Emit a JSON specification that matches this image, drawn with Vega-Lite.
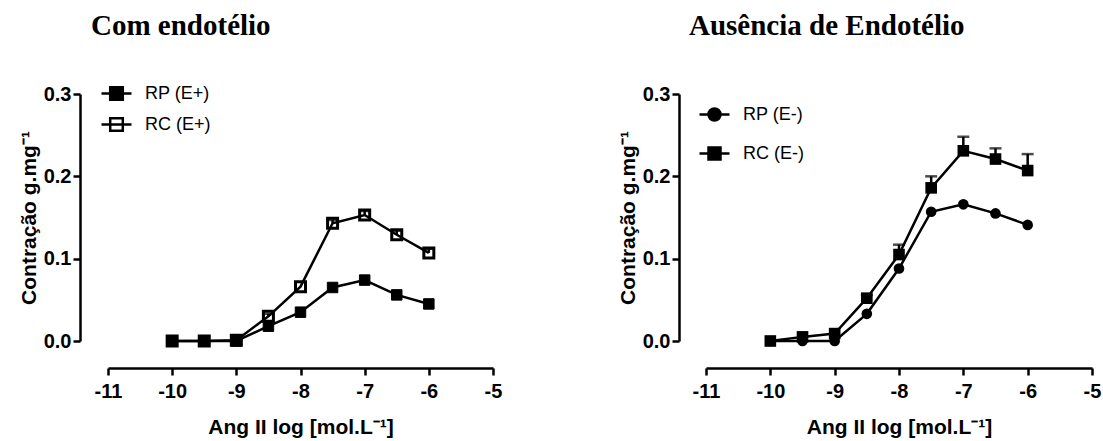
{
  "$schema": "https://vega.github.io/schema/vega-lite/v6.json",
  "autosize": {"type": "pad"},
  "padding": {"left": 18, "top": 12, "right": 5, "bottom": 3},
  "background": "white",
  "spacing": 213,
  "bounds": "flush",
  "resolve": {"scale": {"shape": "independent", "fill": "independent", "stroke": "independent"}, "legend": {"shape": "independent", "fill": "independent", "stroke": "independent"}},
  "config": {
    "font": "Liberation Sans",
    "view": {"stroke": null},
    "axis": {
      "grid": false,
      "domainColor": "black",
      "domainWidth": 2.5,
      "tickColor": "black",
      "tickWidth": 2.5,
      "tickSize": 7,
      "labelFont": "Liberation Sans",
      "labelFontSize": 20,
      "labelFontWeight": "bold",
      "labelColor": "black",
      "labelFlush": false,
      "labelOverlap": false,
      "titleFont": "Liberation Sans",
      "titleFontSize": 21,
      "titleFontWeight": "bold",
      "titleColor": "black"
    },
    "legend": {
      "labelFont": "Liberation Sans",
      "labelFontSize": 18,
      "labelColor": "black",
      "symbolSize": 900,
      "symbolStrokeWidth": 2.5,
      "symbolStrokeColor": "black",
      "symbolOpacity": 1,
      "labelOffset": 12
    },
    "title": {
      "font": "Liberation Serif",
      "fontSize": 29,
      "fontWeight": "bold",
      "color": "black",
      "anchor": "start",
      "frame": "group",
      "dx": -17
    }
  },
  "datasets": {
    "left": [
      {"x": -10, "y": 0.0, "hi": null, "series": "RC (E+)"},
      {"x": -9.5, "y": 0.0, "hi": null, "series": "RC (E+)"},
      {"x": -9, "y": 0.001, "hi": null, "series": "RC (E+)"},
      {"x": -8.5, "y": 0.030, "hi": 0.033, "series": "RC (E+)"},
      {"x": -8, "y": 0.066, "hi": null, "series": "RC (E+)"},
      {"x": -7.5, "y": 0.143, "hi": 0.147, "series": "RC (E+)"},
      {"x": -7, "y": 0.153, "hi": 0.158, "series": "RC (E+)"},
      {"x": -6.5, "y": 0.129, "hi": 0.134, "series": "RC (E+)"},
      {"x": -6, "y": 0.107, "hi": 0.112, "series": "RC (E+)"},
      {"x": -10, "y": 0.0, "hi": null, "series": "RP (E+)"},
      {"x": -9.5, "y": 0.0, "hi": null, "series": "RP (E+)"},
      {"x": -9, "y": 0.0, "hi": null, "series": "RP (E+)"},
      {"x": -8.5, "y": 0.018, "hi": null, "series": "RP (E+)"},
      {"x": -8, "y": 0.035, "hi": null, "series": "RP (E+)"},
      {"x": -7.5, "y": 0.065, "hi": null, "series": "RP (E+)"},
      {"x": -7, "y": 0.074, "hi": null, "series": "RP (E+)"},
      {"x": -6.5, "y": 0.056, "hi": null, "series": "RP (E+)"},
      {"x": -6, "y": 0.045, "hi": null, "series": "RP (E+)"}
    ],
    "right": [
      {"x": -10, "y": 0.0, "hi": null, "series": "RP (E-)"},
      {"x": -9.5, "y": 0.0, "hi": null, "series": "RP (E-)"},
      {"x": -9, "y": 0.0, "hi": null, "series": "RP (E-)"},
      {"x": -8.5, "y": 0.033, "hi": null, "series": "RP (E-)"},
      {"x": -8, "y": 0.088, "hi": null, "series": "RP (E-)"},
      {"x": -7.5, "y": 0.157, "hi": null, "series": "RP (E-)"},
      {"x": -7, "y": 0.166, "hi": null, "series": "RP (E-)"},
      {"x": -6.5, "y": 0.155, "hi": null, "series": "RP (E-)"},
      {"x": -6, "y": 0.141, "hi": null, "series": "RP (E-)"},
      {"x": -10, "y": 0.0, "hi": null, "series": "RC (E-)"},
      {"x": -9.5, "y": 0.005, "hi": null, "series": "RC (E-)"},
      {"x": -9, "y": 0.009, "hi": null, "series": "RC (E-)"},
      {"x": -8.5, "y": 0.052, "hi": 0.056, "series": "RC (E-)"},
      {"x": -8, "y": 0.105, "hi": 0.117, "series": "RC (E-)"},
      {"x": -7.5, "y": 0.186, "hi": 0.200, "series": "RC (E-)"},
      {"x": -7, "y": 0.231, "hi": 0.248, "series": "RC (E-)"},
      {"x": -6.5, "y": 0.221, "hi": 0.234, "series": "RC (E-)"},
      {"x": -6, "y": 0.207, "hi": 0.227, "series": "RC (E-)"}
    ]
  },
  "hconcat": [
    {
      "width": 385,
      "height": 247,
      "title": {"text": "Com endotélio", "baseline": "alphabetic", "offset": 13},
      "data": {"name": "left"},
      "encoding": {
        "x": {
          "field": "x", "type": "quantitative",
          "scale": {"domain": [-11, -5], "nice": false, "zero": false},
          "axis": {"values": [-11, -10, -9, -8, -7, -6, -5], "labelExpr": "'' + datum.value", "offset": 27, "title": "Ang II log [mol.L⁻¹]", "titlePadding": 15, "labelPadding": 6}
        },
        "y": {
          "field": "y", "type": "quantitative",
          "scale": {"domain": [0, 0.3], "nice": false, "zero": false},
          "axis": {"values": [0, 0.1, 0.2, 0.3], "format": ".1f", "offset": 28, "title": "Contração g.mg⁻¹", "titlePadding": 4, "labelPadding": 2}
        }
      },
      "layer": [
        {
          "mark": {"type": "line", "color": "black", "strokeWidth": 2.5},
          "encoding": {"detail": {"field": "series"}}
        },
        {
          "transform": [{"filter": "isValid(datum.hi)"}],
          "mark": {"type": "rule", "color": "black", "strokeWidth": 2.5},
          "encoding": {"y2": {"field": "hi"}}
        },
        {
          "transform": [{"filter": "isValid(datum.hi)"}],
          "mark": {"type": "tick", "color": "black", "orient": "horizontal", "size": 12, "thickness": 2.5},
          "encoding": {"y": {"field": "hi", "type": "quantitative"}}
        },
        {
          "mark": {"type": "point", "shape": "square", "stroke": "black", "opacity": 1},
          "encoding": {
            "fill": {"condition": {"test": "datum.series === 'RP (E+)'", "value": "black"}, "value": "transparent"},
            "size": {"condition": {"test": "datum.series === 'RP (E+)'", "value": 110}, "value": 100},
            "strokeWidth": {"condition": {"test": "datum.series === 'RP (E+)'", "value": 1}, "value": 3}
          }
        },
        {
          "transform": [{"filter": "false"}],
          "mark": {"type": "point", "filled": false, "strokeWidth": 2.5, "opacity": 1},
          "encoding": {
            "shape": {
              "field": "series", "type": "nominal",
              "scale": {"domain": ["RP (E+)", "RC (E+)"], "range": ["M-1,0H1M-0.42,-0.42H0.42V0.42H-0.42Z", "M-1,0H1M-0.42,-0.42H0.42V0.42H-0.42Z"]},
              "legend": {"orient": "none", "legendX": -8, "legendY": -17, "title": null, "rowPadding": 3}
            },
            "fill": {
              "field": "series", "type": "nominal",
              "scale": {"domain": ["RP (E+)", "RC (E+)"], "range": ["black", "transparent"]},
              "legend": {"orient": "none", "legendX": -8, "legendY": -17, "title": null, "rowPadding": 3}
            },
            "stroke": {
              "field": "series", "type": "nominal",
              "scale": {"domain": ["RP (E+)", "RC (E+)"], "range": ["black", "black"]},
              "legend": {"orient": "none", "legendX": -8, "legendY": -17, "title": null, "rowPadding": 3}
            }
          }
        }
      ]
    },
    {
      "width": 386,
      "height": 247,
      "title": {"text": "Ausência de Endotélio", "baseline": "alphabetic", "offset": 20},
      "data": {"name": "right"},
      "encoding": {
        "x": {
          "field": "x", "type": "quantitative",
          "scale": {"domain": [-11, -5], "nice": false, "zero": false},
          "axis": {"values": [-11, -10, -9, -8, -7, -6, -5], "labelExpr": "'' + datum.value", "offset": 27, "title": "Ang II log [mol.L⁻¹]", "titlePadding": 15, "labelPadding": 6}
        },
        "y": {
          "field": "y", "type": "quantitative",
          "scale": {"domain": [0, 0.3], "nice": false, "zero": false},
          "axis": {"values": [0, 0.1, 0.2, 0.3], "format": ".1f", "offset": 27, "title": "Contração g.mg⁻¹", "titlePadding": 4, "labelPadding": 2}
        }
      },
      "layer": [
        {
          "mark": {"type": "line", "color": "black", "strokeWidth": 2.5},
          "encoding": {"detail": {"field": "series"}}
        },
        {
          "transform": [{"filter": "isValid(datum.hi)"}],
          "mark": {"type": "rule", "color": "black", "strokeWidth": 2.5},
          "encoding": {"y2": {"field": "hi"}}
        },
        {
          "transform": [{"filter": "isValid(datum.hi)"}],
          "mark": {"type": "tick", "color": "black", "orient": "horizontal", "size": 12, "thickness": 2.5},
          "encoding": {"y": {"field": "hi", "type": "quantitative"}}
        },
        {
          "mark": {"type": "point", "filled": true, "color": "black", "opacity": 1},
          "encoding": {
            "shape": {"condition": {"test": "datum.series === 'RP (E-)'", "value": "circle"}, "value": "square"},
            "size": {"condition": {"test": "datum.series === 'RP (E-)'", "value": 113}, "value": 135}
          }
        },
        {
          "transform": [{"filter": "false"}],
          "mark": {"type": "point", "filled": false, "strokeWidth": 2.5, "opacity": 1},
          "encoding": {
            "shape": {
              "field": "series", "type": "nominal",
              "scale": {"domain": ["RP (E-)", "RC (E-)"], "range": ["M-1,0H1M0.4,0A0.4,0.4,0,1,1,-0.4,0A0.4,0.4,0,1,1,0.4,0Z", "M-1,0H1M-0.4,-0.4H0.4V0.4H-0.4Z"]},
              "legend": {"orient": "none", "legendX": -8, "legendY": 4, "title": null, "rowPadding": 11}
            },
            "fill": {
              "field": "series", "type": "nominal",
              "scale": {"domain": ["RP (E-)", "RC (E-)"], "range": ["black", "black"]},
              "legend": {"orient": "none", "legendX": -8, "legendY": 4, "title": null, "rowPadding": 11}
            },
            "stroke": {
              "field": "series", "type": "nominal",
              "scale": {"domain": ["RP (E-)", "RC (E-)"], "range": ["black", "black"]},
              "legend": {"orient": "none", "legendX": -8, "legendY": 4, "title": null, "rowPadding": 11}
            }
          }
        }
      ]
    }
  ]
}
